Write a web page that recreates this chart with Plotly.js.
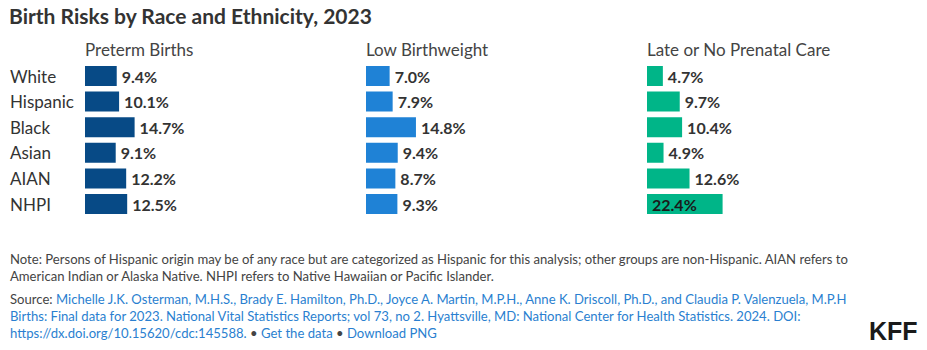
<!DOCTYPE html>
<html><head><meta charset="utf-8">
<script src="https://cdn.plot.ly/plotly-3.0.1.min.js"></script>
<style>html,body{margin:0;padding:0;background:#fff}#chart{width:927px;height:350px}</style>
</head><body><div id="chart"></div>
<script>
const categories = ["White","Hispanic","Black","Asian","AIAN","NHPI"];
const panelTitles = ["Preterm Births","Low Birthweight","Late or No Prenatal Care"];
const pretermBirths = [9.4,10.1,14.7,9.1,12.2,12.5];
const lowBirthweight = [7.0,7.9,14.8,9.4,8.7,9.3];
const lateNoPrenatal = [4.7,9.7,10.4,4.9,12.6,22.4];
const seriesValues = [pretermBirths, lowBirthweight, lateNoPrenatal];
const colors = ["#074a86","#1f82d6","#00b588"];

const W = 927, H = 350;
const FONT = "Lato, 'Source Sans Pro', sans-serif";
const panelStarts = [85, 366, 647];
const panelWidth = 270, xMax = 80;
const yTop = 63.2, yBot = 216.8;
const annShift = 2.5; // compensate annotation padding

const traces = [];
const layout = {
  width: W, height: H, margin: {l:0,r:0,t:0,b:0},
  paper_bgcolor: "#fff", plot_bgcolor: "#fff",
  showlegend: false, bargap: 0.22,
  font: {family: FONT, color: "#333", size: 16},
  title: {text: "<b>Birth Risks by Race and Ethnicity, 2023</b>", x: 9/W, xanchor: "left", xref: "paper",
          y: 1 - 17/H, yanchor: "middle", yref: "paper", font: {family: FONT, size: 21, color: "#333"}},
  yaxis: {domain: [1 - yBot/H, 1 - yTop/H], type: "category", autorange: "reversed",
          showticklabels: false, showgrid: false, zeroline: false, showline: false, ticks: ""},
  annotations: []
};

seriesValues.forEach((vals, i) => {
  const ax = i === 0 ? "" : String(i+1);
  traces.push({
    type: "bar", orientation: "h", y: categories, x: vals,
    xaxis: "x" + ax, yaxis: "y",
    marker: {color: colors[i]},
    text: vals.map(v => v.toFixed(1) + "%"),
    textposition: vals.map(v => v > 20 ? "inside" : "outside"),
    insidetextanchor: "start",
    constraintext: "none", cliponaxis: false,
    textfont: {family: FONT, size: 16, color: "#333", weight: "bold"},
    insidetextfont: {family: FONT, size: 16, color: "#1a1a1a", weight: "bold"},
    outsidetextfont: {family: FONT, size: 16, color: "#333", weight: "bold"},
    texttemplate: "\u2009<b>%{text}</b>",
    hoverinfo: "skip"
  });
  layout["xaxis" + ax] = {
    domain: [panelStarts[i]/W, (panelStarts[i] + panelWidth)/W],
    range: [0, xMax], anchor: "y",
    showticklabels: false, showgrid: false, zeroline: false, showline: false, ticks: "", fixedrange: true
  };
  layout.annotations.push({
    xref: "paper", yref: "paper", x: (panelStarts[i] - annShift)/W, y: 1 - 49/H,
    xanchor: "left", yanchor: "middle", showarrow: false,
    text: panelTitles[i], font: {family: FONT, size: 17, color: "#444"}
  });
});

categories.forEach(c => {
  layout.annotations.push({
    xref: "paper", yref: "y", x: (10 - annShift)/W, y: c, xanchor: "left", yanchor: "middle",
    showarrow: false, text: c, font: {family: FONT, size: 17, color: "#333"}
  });
});

const link = "#2a7fd0";
layout.annotations.push({
  xref: "paper", yref: "paper", x: (10 - annShift)/W, y: 1 - 249/H, xanchor: "left", yanchor: "top",
  align: "left", showarrow: false,
  font: {family: FONT, size: 13.1, color: "#444"},
  text: "Note: Persons of Hispanic origin may be of any race but are categorized as Hispanic for this analysis; other groups are non-Hispanic. AIAN refers to<br>American Indian or Alaska Native. NHPI refers to Native Hawaiian or Pacific Islander."
});
layout.annotations.push({
  xref: "paper", yref: "paper", x: (10 - annShift)/W, y: 1 - 289/H, xanchor: "left", yanchor: "top",
  align: "left", showarrow: false,
  font: {family: FONT, size: 13.1, color: "#444"},
  text: "Source: <span style='color:" + link + "'>Michelle J.K. Osterman, M.H.S., Brady E. Hamilton, Ph.D., Joyce A. Martin, M.P.H., Anne K. Driscoll, Ph.D., and Claudia P. Valenzuela, M.P.H</span><br>" +
        "<span style='color:" + link + "'>Births: Final data for 2023. National Vital Statistics Reports; vol 73, no 2. Hyattsville, MD: National Center for Health Statistics. 2024. DOI:</span><br>" +
        "<span style='color:" + link + "'>https://dx.doi.org/10.15620/cdc:145588.</span> • <span style='color:" + link + "'>Get the data</span> • <span style='color:" + link + "'>Download PNG</span>"
});
layout.annotations.push({
  xref: "paper", yref: "paper", x: 920/W, y: 1 - 331/H, xanchor: "right", yanchor: "middle",
  showarrow: false, text: "<b>KFF</b>",
  font: {family: "'Liberation Sans Narrow', 'Liberation Sans', Arial, sans-serif", size: 25, color: "#1a1a1a"}
});

Plotly.newPlot("chart", traces, layout, {displayModeBar: false, staticPlot: true});
</script></body></html>
